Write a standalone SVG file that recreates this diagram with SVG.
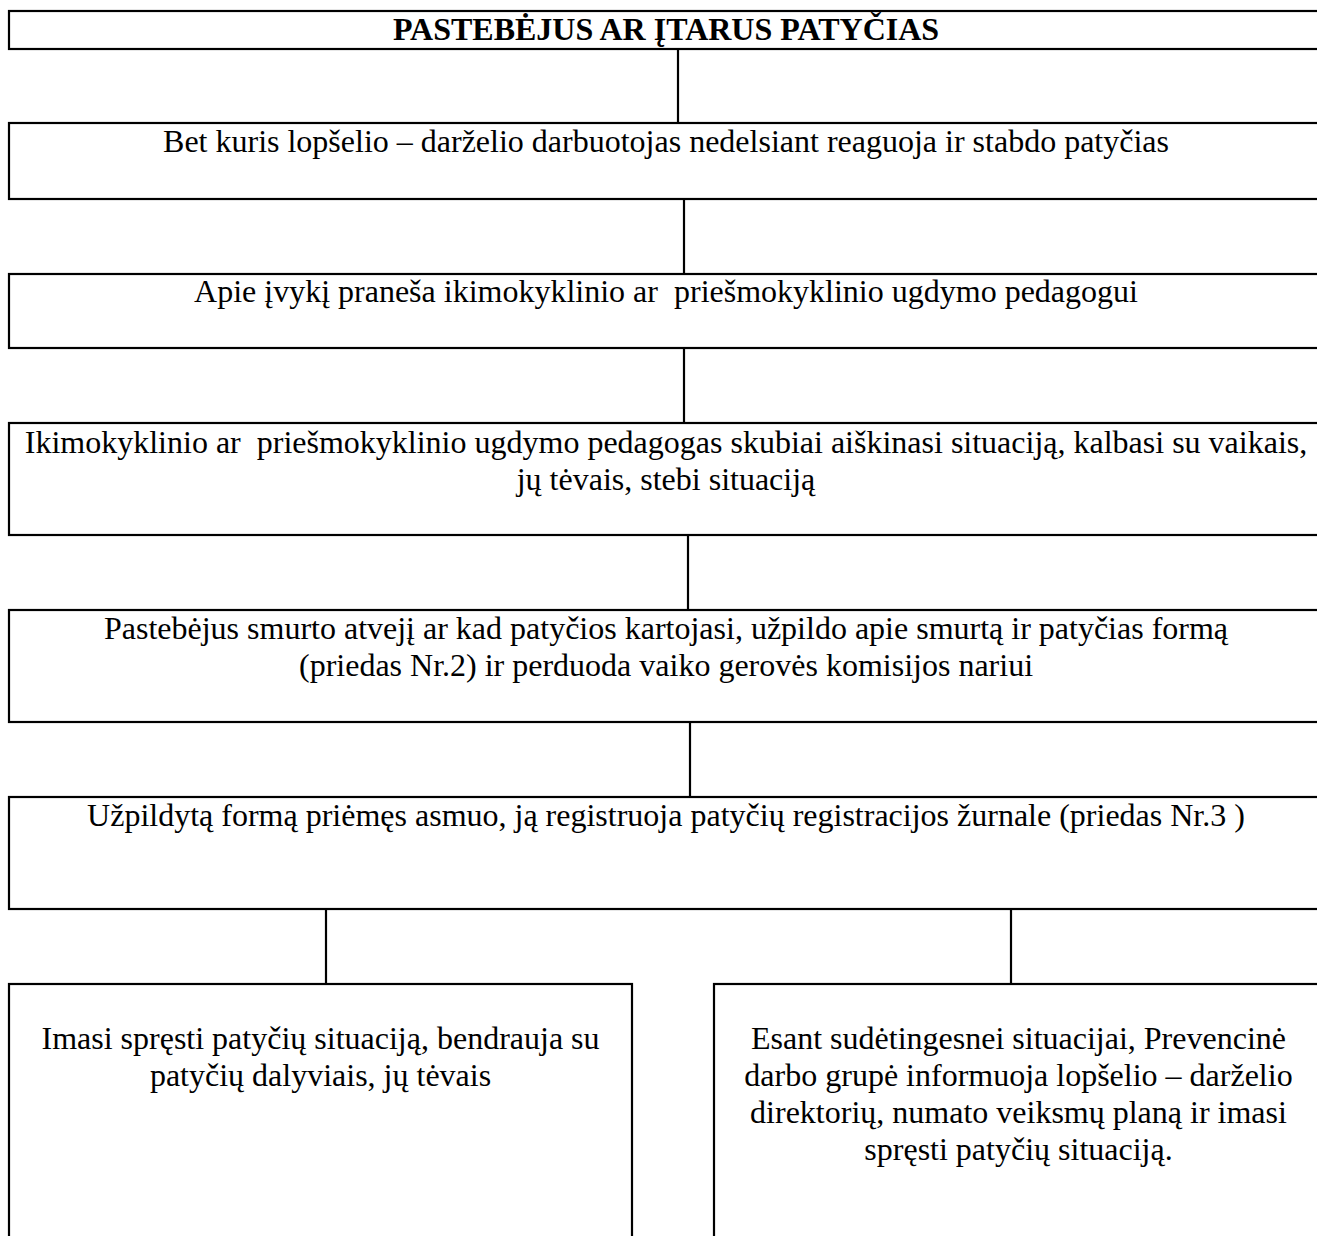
<svg xmlns="http://www.w3.org/2000/svg" width="1317" height="1236" viewBox="0 0 1317 1236">
<style>
.box{fill:#ffffff;stroke:#000000;stroke-width:2.2}
.con{stroke:#000000;stroke-width:2.2;fill:none}
text{font-family:"Liberation Serif","Times New Roman",serif;font-size:32px;fill:#000000;text-anchor:middle;white-space:pre}
.title{font-weight:bold}
</style>
<rect x="0" y="0" width="1317" height="1236" fill="#ffffff"/>
<g id="connectors">
<line class="con" x1="678" y1="49" x2="678" y2="123"/>
<line class="con" x1="684" y1="199" x2="684" y2="274"/>
<line class="con" x1="684" y1="348" x2="684" y2="423"/>
<line class="con" x1="688" y1="535" x2="688" y2="610"/>
<line class="con" x1="690" y1="722" x2="690" y2="797"/>
<line class="con" x1="326" y1="909" x2="326" y2="984"/>
<line class="con" x1="1011" y1="909" x2="1011" y2="984"/>
</g>
<g id="n1">
<rect class="box" x="9" y="11" width="1314" height="38"/>
<text class="title" x="666" y="40">PASTEBĖJUS AR ĮTARUS PATYČIAS</text>
</g>
<g id="n2">
<rect class="box" x="9" y="123" width="1314" height="76"/>
<text x="666" y="152">Bet kuris lopšelio – darželio darbuotojas nedelsiant reaguoja ir stabdo patyčias</text>
</g>
<g id="n3">
<rect class="box" x="9" y="274" width="1314" height="74"/>
<text x="666" y="302">Apie įvykį praneša ikimokyklinio ar  priešmokyklinio ugdymo pedagogui</text>
</g>
<g id="n4">
<rect class="box" x="9" y="423" width="1314" height="112"/>
<text x="666" y="453">Ikimokyklinio ar  priešmokyklinio ugdymo pedagogas skubiai aiškinasi situaciją, kalbasi su vaikais,</text>
<text x="666" y="490">jų tėvais, stebi situaciją</text>
</g>
<g id="n5">
<rect class="box" x="9" y="610" width="1314" height="112"/>
<text x="666" y="639">Pastebėjus smurto atvejį ar kad patyčios kartojasi, užpildo apie smurtą ir patyčias formą</text>
<text x="666" y="676">(priedas Nr.2) ir perduoda vaiko gerovės komisijos nariui</text>
</g>
<g id="n6">
<rect class="box" x="9" y="797" width="1314" height="112"/>
<text x="666" y="826">Užpildytą formą priėmęs asmuo, ją registruoja patyčių registracijos žurnale (priedas Nr.3 )</text>
</g>
<g id="n7">
<rect class="box" x="9" y="984" width="623" height="280"/>
<text x="320.5" y="1049">Imasi spręsti patyčių situaciją, bendrauja su</text>
<text x="320.5" y="1086">patyčių dalyviais, jų tėvais</text>
</g>
<g id="n8">
<rect class="box" x="714" y="984" width="609" height="280"/>
<text x="1018.5" y="1049">Esant sudėtingesnei situacijai, Prevencinė</text>
<text x="1018.5" y="1086">darbo grupė informuoja lopšelio – darželio</text>
<text x="1018.5" y="1123">direktorių, numato veiksmų planą ir imasi</text>
<text x="1018.5" y="1160">spręsti patyčių situaciją.</text>
</g>
</svg>
